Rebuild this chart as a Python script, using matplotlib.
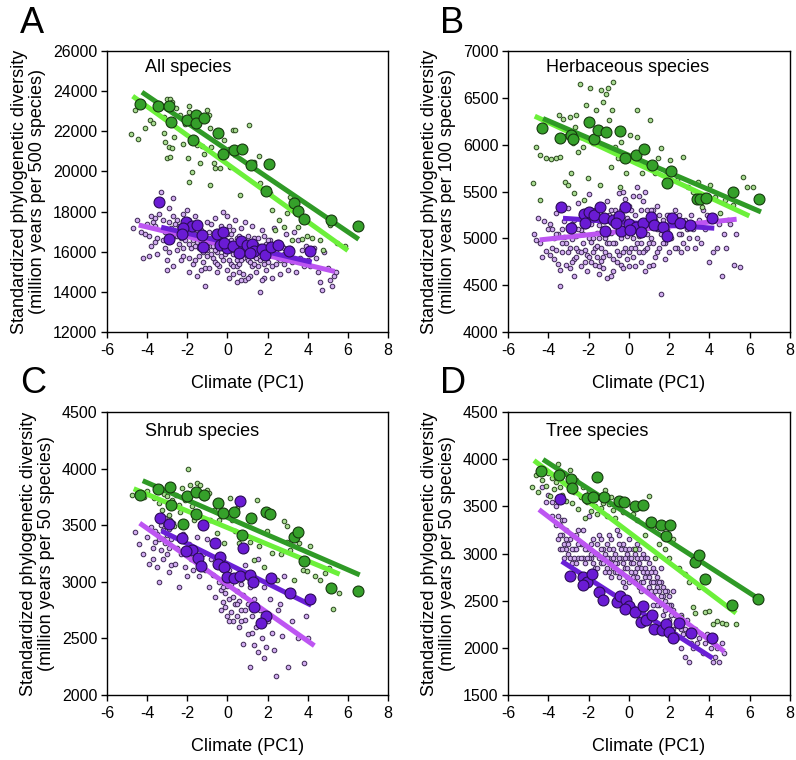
import matplotlib
matplotlib.use('Agg')
import matplotlib.pyplot as plt

plt.rcParams['font.family'] = ['Liberation Sans', 'DejaVu Sans']
plt.rcParams['axes.unicode_minus'] = False

# ---- Panel A: all species ----
a_green_big = [(-4.34, 23380), (-3.46, 23250), (-2.89, 23280), (-2.79, 22470), (-2.01, 22550),
               (-1.55, 22820), (-1.55, 22420), (-1.18, 22640), (-1.73, 21590), (-0.47, 21920),
               (-0.22, 20860), (0.31, 21050), (0.71, 21110), (1.18, 20320), (2.07, 20370),
               (1.91, 19040), (3.34, 18410), (3.50, 18050), (3.80, 17620), (5.18, 17570), (6.49, 17270)]
a_purple_big = [(-3.39, 18460), (-2.93, 16640), (-2.06, 17490), (-1.78, 17300), (-1.50, 17320),
                (-2.23, 17190), (-2.26, 16890), (-1.29, 16810), (-1.23, 16240), (-0.50, 16890),
                (-0.21, 16990), (-0.37, 16310), (-0.04, 16180), (-0.17, 16440), (0.29, 16270),
                (0.66, 16510), (0.59, 15950), (0.96, 16310), (1.21, 16390), (1.32, 16060),
                (1.71, 16140), (1.87, 15860), (2.16, 16220), (2.50, 16310), (3.08, 16020),
                (4.11, 16020), (1.13, 15950)]
a_green_small = [(-4.79, 21860), (-4.46, 21640), (-4.59, 23050), (-4.09, 22140), (-3.84, 22550),
                 (-3.69, 22420), (-3.18, 22720), (-3.01, 23610), (-2.84, 23610), (-2.76, 23460),
                 (-3.14, 21920), (-3.09, 21480), (-3.01, 20650), (-2.84, 20730), (-2.93, 21230),
                 (-2.76, 21150), (-2.68, 21730), (-2.54, 23170), (-2.35, 22800), (-2.21, 21390),
                 (-2.13, 22340), (-1.98, 20650), (-1.93, 23250), (-1.90, 22950), (-1.76, 19990),
                 (-1.93, 19490), (-1.51, 21310), (-1.38, 20400), (-1.27, 21260), (-1.18, 20850),
                 (-1.02, 23050), (-0.93, 22800), (-0.88, 22170), (-0.82, 21200), (-0.85, 19320),
                 (-0.68, 20400), (-0.60, 20150), (-0.35, 20150), (-0.19, 21560), (-0.05, 20810),
                 (0.15, 20230), (0.06, 21140), (0.28, 22060), (0.36, 22060), (0.40, 20810),
                 (0.61, 18830), (1.06, 22310), (1.31, 20480), (1.56, 20760), (1.64, 19410),
                 (2.11, 18910), (2.22, 18080), (2.39, 17090), (2.56, 17580), (2.84, 17220),
                 (2.97, 17910), (3.10, 18740), (3.22, 16590), (3.52, 17250), (3.97, 16760),
                 (4.22, 16670), (4.60, 16590), (4.76, 16090), (5.13, 17330), (5.46, 16420),
                 (5.88, 16260), (3.72, 16640)]
a_purple_small = [(-4.7, 17200), (-4.5, 17600), (-4.3, 17000), (-4.1, 16900), (-4.0, 17400), (-3.9, 15800),
                  (-4.2, 15700), (-3.8, 17800), (-3.7, 17500), (-3.6, 17300), (-3.5, 16700), (-3.4, 17900),
                  (-3.3, 19000), (-3.2, 17600), (-3.1, 16200), (-3.0, 15100), (-3.0, 15600), (-3.5, 15900),
                  (-3.8, 16300), (-3.3, 18400), (-3.1, 17000), (-3.6, 17700), (-2.9, 18200), (-2.7, 18700),
                  (-2.8, 17200), (-2.6, 16800), (-2.5, 17600), (-2.4, 16400), (-2.3, 15600), (-2.2, 17900),
                  (-2.9, 16000), (-2.7, 15300), (-2.5, 16100), (-2.1, 16600), (-2.0, 18100), (-2.2, 15800),
                  (-2.6, 17400), (-2.4, 17000), (-2.8, 16600), (-2.0, 17300), (-1.9, 17600), (-1.8, 16200),
                  (-1.7, 15400), (-1.6, 17800), (-1.5, 16500), (-1.4, 15800), (-1.3, 17100), (-1.2, 16000),
                  (-1.1, 15200), (-1.0, 17500), (-1.9, 15000), (-1.5, 14800), (-1.1, 14300), (-1.8, 16900),
                  (-1.4, 16700), (-1.2, 16400), (-1.0, 16100), (-1.6, 15600), (-1.3, 15100), (-1.7, 17200),
                  (-0.9, 17000), (-0.8, 16300), (-0.7, 15700), (-0.6, 17700), (-0.5, 16000), (-0.4, 15300),
                  (-0.3, 16600), (-0.2, 18000), (-0.1, 15900), (0.0, 16900), (-0.9, 15200), (-0.7, 16800),
                  (-0.5, 15000), (-0.3, 17300), (-0.1, 16300), (-0.8, 17400), (-0.6, 15500), (-0.4, 16500),
                  (-0.2, 15600), (0.0, 17800), (0.1, 16100), (0.2, 15400), (0.3, 17100), (0.4, 15900),
                  (0.5, 16700), (0.6, 15000), (0.7, 16400), (0.8, 14900), (0.9, 17500), (1.0, 15600),
                  (0.2, 16900), (0.4, 17600), (0.6, 16200), (0.8, 15700), (1.0, 16800), (0.1, 14700),
                  (0.3, 15300), (0.5, 15600), (0.7, 17200), (0.9, 14600), (0.5, 14500), (0.0, 15100),
                  (1.1, 16200), (1.2, 15300), (1.3, 16700), (1.4, 15000), (1.5, 16100), (1.6, 15600),
                  (1.7, 17100), (1.8, 14700), (1.9, 16400), (2.0, 15500), (1.2, 17300), (1.4, 16400),
                  (1.6, 14000), (1.8, 16800), (2.0, 16000), (1.1, 14800), (1.5, 15300), (1.7, 14600),
                  (1.3, 15800), (1.9, 15100), (2.1, 16600), (2.2, 15300), (2.4, 16000), (2.5, 15700),
                  (2.6, 14900), (2.7, 16300), (2.8, 15400), (2.9, 16900), (3.0, 15100), (2.3, 17200),
                  (2.5, 16500), (2.8, 15900), (2.2, 14700), (2.9, 15600), (3.1, 16200), (3.2, 15500),
                  (3.4, 15000), (3.5, 16600), (3.6, 15700), (3.8, 15300), (3.9, 16300), (3.3, 17000),
                  (3.7, 16100), (4.0, 15600), (4.1, 15300), (4.3, 16200), (4.5, 15000), (4.6, 14500),
                  (4.7, 14100), (4.8, 16000), (5.0, 15200), (5.1, 14600), (5.2, 14300), (5.3, 14800),
                  (5.4, 15000), (4.4, 15700),
                  (-2.4, 17300), (-2.3, 16700), (-2.1, 17100), (-1.9, 16400), (-1.8, 17400), (-1.7, 16600),
                  (-1.6, 16900), (-1.5, 17100), (-1.4, 16200), (-1.3, 16500), (-1.2, 17000), (-1.1, 16600),
                  (-1.0, 15800), (-0.9, 16500), (-0.8, 15900), (-0.7, 16300), (-0.6, 16100), (-0.5, 16600),
                  (-0.4, 17000), (-0.3, 15800), (-0.2, 16400), (-0.1, 17100), (0.0, 16400), (0.1, 15600),
                  (0.2, 16600), (0.3, 15900), (0.4, 16300), (0.5, 15300), (0.6, 16800), (0.7, 15600),
                  (0.8, 16200), (0.9, 15900), (1.0, 16300), (1.1, 15500), (1.2, 16000), (1.3, 15400),
                  (1.4, 15700), (1.5, 16700), (1.6, 16300), (1.7, 15800), (1.8, 15400), (1.9, 15700),
                  (2.0, 16600), (2.2, 16000), (2.4, 15400), (2.6, 15600), (2.8, 16200), (3.0, 15800),
                  (-2.9, 17500), (-2.7, 17800), (-2.5, 16800), (-3.2, 16600), (-3.6, 16500), (-3.9, 16800),
                  (-2.2, 16200), (-1.9, 15700), (-1.2, 15500), (-0.5, 15400), (0.3, 14900), (0.7, 14600),
                  (1.0, 14700), (-1.6, 16300), (-0.8, 16700), (0.1, 17300), (0.6, 15400), (1.3, 16300)]
# fitted lines: (x_start, y_start, x_end, y_end)
a_lines = {'dark_green': (-4.26, 23950, 6.54, 16620), 'light_green': (-4.72, 23750, 6.0, 16060),
           'violet': (-4.42, 17330, 5.35, 15015), 'purple': (-3.3, 17220, 4.2, 15480)}

# ---- Panel B: herbaceous species ----
b_green_big = [(-4.31, 6180), (-3.43, 6073), (-2.85, 6102), (-2.77, 6059), (-1.99, 6240), (-1.73, 6059),
               (-1.53, 6155), (-1.15, 6130), (-0.45, 6148), (-0.18, 5857), (0.35, 5889), (0.74, 5953),
               (1.16, 5782), (2.08, 5722), (1.89, 5587), (3.36, 5416), (3.53, 5416), (3.81, 5434),
               (5.15, 5495), (6.46, 5416)]
b_purple_big = [(-3.35, 5339), (-2.88, 5107), (-2.24, 5257), (-1.97, 5285), (-1.74, 5250), (-2.19, 5161),
                (-1.44, 5339), (-1.24, 5214), (-1.19, 5079), (-0.81, 5196), (-0.48, 5243), (-0.37, 5083),
                (-0.17, 5339), (0.00, 5150), (0.35, 5125), (0.71, 5161), (0.60, 5065), (1.12, 5225),
                (1.24, 5143), (1.70, 5125), (1.87, 5026), (2.16, 5214), (2.53, 5161), (3.02, 5143),
                (4.15, 5214), (-0.65, 5161), (0.08, 5090)]
b_green_small = [(-4.76, 5594), (-4.43, 5889), (-4.59, 5978), (-4.39, 5410), (-4.09, 5853), (-3.85, 5843),
                 (-3.60, 5853), (-3.47, 6315), (-3.40, 5871), (-3.27, 6279), (-3.18, 5605), (-3.10, 6091),
                 (-3.02, 5569), (-2.94, 6297), (-2.85, 5694), (-2.77, 6013), (-2.69, 6190), (-2.74, 5481),
                 (-2.60, 6315), (-2.52, 5924), (-2.44, 6652), (-2.36, 6084), (-2.27, 5978), (-2.22, 5410),
                 (-2.11, 6421), (-2.02, 5640), (-1.91, 6609), (-1.86, 6244), (-1.78, 6013), (-1.61, 6368),
                 (-1.53, 6173), (-1.44, 5569), (-1.39, 6588), (-1.28, 6457), (-1.15, 6546), (-1.03, 6609),
                 (-0.98, 6262), (-0.91, 5765), (-0.78, 6670), (-0.86, 6368), (-0.70, 5978), (-0.53, 5853),
                 (-0.45, 5551), (-0.37, 6031), (-0.12, 5694), (0.05, 6102), (0.21, 5889), (0.38, 6368),
                 (0.41, 6084), (0.63, 5694), (0.79, 5800), (1.01, 5765), (1.07, 6262), (1.29, 5694),
                 (1.46, 5853), (1.62, 5960), (1.84, 5676), (2.04, 5835), (2.37, 5623), (2.70, 5871),
                 (2.95, 5551), (3.19, 5498), (3.44, 5605), (4.02, 5569), (4.27, 5445), (4.52, 5267),
                 (4.77, 5410), (5.18, 5356), (5.68, 5658), (5.85, 5551), (6.18, 5551), (4.93, 5197),
                 (3.61, 5339)]
b_purple_small = [(-4.7, 5050), (-4.5, 5220), (-4.4, 4950), (-4.2, 5180), (-4.1, 4870), (-4.0, 5100),
                  (-4.3, 4800), (-4.6, 4980), (-3.9, 5150), (-3.8, 4900), (-3.7, 4780), (-3.6, 5270),
                  (-3.5, 5050), (-3.4, 4490), (-3.4, 4660), (-3.3, 4850), (-3.2, 5190), (-3.1, 4950),
                  (-3.0, 5320), (-3.9, 4820), (-3.7, 5000), (-3.5, 4730), (-3.3, 5100), (-3.1, 4720),
                  (-3.6, 4880), (-3.2, 5010), (-2.9, 4900), (-2.8, 5150), (-2.7, 4780), (-2.6, 5020),
                  (-2.5, 5380), (-2.4, 4700), (-2.3, 4950), (-2.2, 5130), (-2.1, 4820), (-2.0, 5470),
                  (-2.9, 4680), (-2.7, 4600), (-2.5, 4870), (-2.3, 5250), (-2.1, 4650), (-2.8, 4990),
                  (-2.6, 4800), (-2.4, 5090), (-2.2, 4880), (-2.0, 5000), (-1.9, 4750), (-1.8, 5200),
                  (-1.7, 4900), (-1.6, 5060), (-1.5, 4620), (-1.4, 5330), (-1.3, 4800), (-1.2, 5000),
                  (-1.1, 4580), (-1.0, 5250), (-1.9, 4960), (-1.7, 4720), (-1.5, 5140), (-1.3, 4680),
                  (-1.1, 5400), (-1.0, 4820), (-1.8, 4850), (-1.6, 4920), (-1.4, 4760), (-1.2, 5180),
                  (-1.1, 4950), (-0.9, 5060), (-0.8, 4780), (-0.7, 5300), (-0.6, 4870), (-0.5, 5480),
                  (-0.4, 4720), (-0.3, 5150), (-0.2, 4900), (-0.1, 5020), (0.0, 5350), (-0.9, 4600),
                  (-0.7, 4950), (-0.5, 4820), (-0.3, 4680), (-0.1, 5220), (-0.8, 5200), (-0.6, 5080),
                  (-0.4, 5000), (-0.2, 5420), (0.0, 4850), (0.1, 5100), (0.2, 4800), (0.3, 5250),
                  (0.4, 4950), (0.5, 5450), (0.6, 4750), (0.7, 5050), (0.8, 4880), (0.9, 5300),
                  (1.0, 4700), (0.2, 5000), (0.4, 5550), (0.6, 5150), (0.8, 4650), (1.0, 5200),
                  (0.1, 4900), (0.3, 4700), (0.5, 5020), (0.7, 5400), (0.9, 4900), (1.1, 5000),
                  (1.2, 5300), (1.3, 4800), (1.4, 5100), (1.5, 4900), (1.6, 4410), (1.7, 5200),
                  (1.8, 4950), (1.9, 5100), (2.0, 4850), (1.2, 4720), (1.4, 5350), (1.6, 5050),
                  (1.8, 4780), (2.0, 5250), (1.1, 5150), (1.5, 5250), (2.1, 5000), (2.2, 5150),
                  (2.4, 4900), (2.5, 5250), (2.6, 5050), (2.7, 4950), (2.8, 5200), (2.9, 5100),
                  (3.0, 5000), (2.3, 5300), (2.6, 4850), (3.1, 5250), (3.2, 5100), (3.4, 5000),
                  (3.5, 5200), (3.6, 4950), (3.8, 5100), (3.9, 5250), (3.3, 4900), (3.7, 5300),
                  (4.0, 4750), (4.2, 4850), (4.4, 4900), (4.6, 4600), (4.7, 5050), (4.8, 4900),
                  (5.0, 5150), (5.2, 4710), (5.3, 5050), (5.5, 4690), (4.5, 5150),
                  (-3.0, 4850), (-2.9, 5100), (-2.8, 4750), (-2.7, 5200), (-2.6, 4900), (-2.5, 5100),
                  (-2.4, 4850), (-2.3, 5050), (-2.2, 4750), (-2.1, 5200), (-2.0, 4800), (-1.9, 5150),
                  (-1.8, 5000), (-1.7, 5300), (-1.6, 4800), (-1.5, 5000), (-1.4, 4900), (-1.3, 5100),
                  (-1.2, 4850), (-1.1, 5050), (-1.0, 4950), (-0.9, 5300), (-0.8, 4950), (-0.7, 5150),
                  (-0.6, 4750), (-0.5, 5100), (-0.4, 5300), (-0.3, 4850), (-0.2, 5100), (-0.1, 4780),
                  (0.0, 5100), (0.1, 5300), (0.2, 5150), (0.3, 4900), (0.4, 5100), (0.5, 4850),
                  (0.6, 5300), (0.7, 4850), (0.8, 5150), (0.9, 5050), (1.0, 4950), (1.1, 5300),
                  (1.2, 4950), (1.3, 5200), (1.4, 4850), (1.5, 5100), (1.7, 4950), (1.9, 5250),
                  (2.1, 5150), (2.3, 4900), (2.5, 5050), (2.7, 5150), (2.9, 4900), (-3.6, 5050),
                  (-3.8, 5100), (-3.3, 4950), (-1.5, 4700), (-0.8, 4650), (0.0, 4700), (0.6, 4950),
                  (-2.4, 5250), (-0.3, 5500), (0.2, 5450), (0.8, 5500)]
b_lines = {'dark_green': (-4.26, 6279, 6.56, 5282), 'light_green': (-4.67, 6304, 5.98, 5239),
           'violet': (-4.43, 4983, 5.35, 5204), 'purple': (-3.27, 5214, 4.24, 5108)}

# ---- Panel C: shrub species ----
c_green_big = [(-4.34, 3763), (-3.46, 3822), (-2.88, 3837), (-2.79, 3675), (-2.01, 3754), (-1.55, 3792),
               (-1.18, 3763), (-2.21, 3512), (-1.55, 3601), (-0.47, 3695), (-0.22, 3607), (0.31, 3616),
               (0.71, 3415), (1.18, 3568), (1.92, 3613), (2.11, 3598), (3.34, 3400), (3.52, 3442),
               (3.80, 3185), (5.18, 2949), (6.49, 2920)]
c_purple_big = [(0.61, 3710), (-3.38, 3562), (-2.93, 3512), (-1.22, 3503), (-2.26, 3391), (-0.60, 3341),
                (0.78, 3297), (-1.76, 3282), (-2.05, 3268), (-0.39, 3218), (-1.47, 3209), (-0.49, 3156),
                (-0.19, 3129), (-1.30, 3141), (-0.02, 3041), (0.31, 3032), (0.64, 3047), (1.11, 3059),
                (1.26, 3002), (2.17, 3032), (3.14, 2905), (4.13, 2849), (1.34, 2781), (1.91, 2702),
                (1.69, 2634)]
c_green_small = [(-4.75, 3769), (-4.50, 3784), (-4.17, 3748), (-4.01, 3798), (-3.67, 3739), (-3.43, 3695),
                 (-3.26, 3636), (-3.18, 3778), (-3.01, 3754), (-2.93, 3592), (-2.84, 3548), (-2.76, 3725),
                 (-2.68, 3489), (-2.54, 3769), (-2.43, 3680), (-2.35, 3621), (-2.26, 3828), (-2.13, 3725),
                 (-1.98, 3996), (-1.85, 3857), (-1.76, 3666), (-1.68, 3548), (-1.51, 3872), (-1.43, 3769),
                 (-1.38, 3857), (-1.27, 3504), (-1.15, 3739), (-1.02, 3813), (-0.93, 3784), (-0.85, 3548),
                 (-0.68, 3636), (-0.52, 3430), (-0.44, 3548), (-0.19, 3341), (0.15, 3739), (0.23, 3548),
                 (0.40, 3445), (0.48, 3651), (0.56, 3341), (0.81, 3282), (1.11, 3356), (1.31, 3194),
                 (1.48, 3725), (1.56, 3312), (1.81, 3135), (1.97, 3445), (2.22, 3253), (2.47, 3017),
                 (2.80, 3533), (2.97, 3356), (3.14, 3282), (3.30, 3017), (3.55, 3341), (3.77, 3106),
                 (3.97, 3091), (4.13, 3312), (4.38, 3047), (4.63, 3017), (4.88, 3076), (5.05, 3120),
                 (5.26, 2758), (5.54, 2905), (2.97, 3489), (2.67, 3247)]
c_purple_small = [(-4.6, 3440), (-4.4, 3330), (-4.2, 3250), (-4.0, 3400), (-3.9, 3160), (-3.8, 3480),
                  (-3.7, 3300), (-3.6, 3350), (-3.5, 3130), (-3.5, 3420), (-3.4, 3000), (-3.4, 3380),
                  (-3.3, 3500), (-3.3, 3280), (-3.2, 3460), (-3.2, 3200), (-3.1, 3340), (-3.1, 3560),
                  (-3.0, 3410), (-3.0, 3250), (-2.9, 3470), (-2.9, 3090), (-2.8, 3150), (-2.8, 3380),
                  (-2.7, 3520), (-2.6, 3160), (-2.5, 3300), (-2.4, 2950), (-2.3, 3250), (-2.2, 3420),
                  (-2.1, 3130), (-2.0, 3050), (-1.9, 3330), (-1.8, 3200), (-1.7, 3100), (-1.6, 3280),
                  (-1.5, 3400), (-1.4, 3050), (-1.3, 3170), (-1.2, 3250), (-1.1, 3100), (-1.0, 3380),
                  (-0.9, 2950), (-0.8, 3200), (-0.7, 3060), (-0.6, 2870), (-0.5, 3150), (-0.4, 3000),
                  (-0.3, 2930), (-0.2, 2820), (-0.2, 3000), (-0.1, 2900), (-0.1, 2780), (0.0, 2960),
                  (0.0, 2700), (0.1, 2850), (0.1, 3100), (0.2, 2730), (0.2, 2980), (0.3, 2870),
                  (0.3, 2650), (0.4, 2800), (0.4, 3050), (0.5, 2700), (0.5, 2920), (0.6, 2830),
                  (0.6, 2600), (0.7, 2980), (0.7, 2750), (0.8, 2880), (0.8, 2450), (0.9, 2660),
                  (0.9, 3150), (1.0, 2800), (1.0, 2540), (1.1, 2250), (1.1, 2950), (1.2, 2700),
                  (1.3, 2440), (1.3, 2850), (1.4, 2600), (1.5, 2380), (1.5, 3200), (1.6, 2750),
                  (1.7, 2500), (1.8, 2330), (1.8, 2950), (1.9, 2420), (2.0, 2650), (2.1, 2850),
                  (2.2, 2550), (2.3, 2400), (2.4, 2170), (2.5, 2750), (2.6, 2800), (2.7, 2520),
                  (3.0, 2250), (3.2, 2650), (3.5, 2500), (3.8, 2280), (3.9, 2700), (4.0, 2500),
                  (3.0, 2900), (2.8, 3050),
                  (-3.6, 3450), (-3.2, 3380), (-2.9, 3300), (-3.7, 3200), (-3.0, 3520), (-0.3, 2750),
                  (0.1, 2650), (0.5, 2800), (0.9, 2750), (1.2, 2550), (0.7, 2650), (-0.2, 2950)]
c_lines = {'dark_green': (-4.22, 3893, 6.59, 3061), 'light_green': (-4.67, 3822, 5.59, 3067),
           'violet': (-4.37, 3518, 4.33, 2436), 'purple': (-3.29, 3450, 4.18, 2793)}

# ---- Panel D: tree species ----
d_green_big = [(-4.34, 3873), (-3.47, 3827), (-2.89, 3792), (-2.80, 3696), (-1.56, 3813), (-2.06, 3590),
               (-1.76, 3597), (-1.23, 3600), (-0.48, 3554), (-0.23, 3544), (0.31, 3501), (0.68, 3519),
               (1.12, 3331), (1.59, 3299), (1.84, 3182), (2.05, 3299), (3.28, 2906), (3.49, 2988),
               (3.77, 2729), (5.12, 2449), (6.43, 2520)]
d_purple_big = [(-3.42, 3583), (-2.94, 2764), (-2.27, 2747), (-2.06, 2694), (-2.26, 2669), (-1.81, 2786),
                (-1.48, 2587), (-1.28, 2509), (-0.57, 2481), (-0.45, 2545), (-0.15, 2509), (0.01, 2446),
                (-0.18, 2410), (0.31, 2385), (0.68, 2439), (0.59, 2279), (0.84, 2297), (1.14, 2350),
                (1.26, 2201), (1.67, 2191), (1.84, 2254), (2.00, 2173), (2.50, 2262), (2.17, 2102),
                (3.08, 2155), (4.12, 2102)]
d_green_small = [(-4.8, 3700), (-4.6, 3830), (-4.5, 3650), (-4.3, 3780), (-4.2, 3900), (-4.1, 3720),
                 (-4.0, 3850), (-3.9, 3610), (-3.8, 3800), (-3.7, 3680), (-3.6, 3760), (-3.5, 3950),
                 (-3.4, 3700), (-3.3, 3620), (-3.2, 3850), (-3.1, 3560), (-3.0, 3740), (-2.9, 3880),
                 (-2.8, 3540), (-2.7, 3650), (-2.6, 3780), (-2.5, 3470), (-2.4, 3600), (-2.3, 3700),
                 (-2.2, 3380), (-2.1, 3550), (-2.0, 3660), (-1.9, 3450), (-1.8, 3580), (-1.7, 3500),
                 (-1.6, 3420), (-1.5, 3600), (-1.4, 3480), (-1.3, 3540), (-1.2, 3670), (-1.1, 3400),
                 (-1.0, 3520), (-0.9, 3600), (-0.8, 3460), (-0.7, 3380), (-0.5, 3500), (-0.3, 3440),
                 (-0.1, 3560), (0.2, 3420), (0.4, 3350), (0.6, 3480), (0.8, 3200), (1.0, 3610),
                 (1.2, 3280), (1.5, 3100), (1.8, 3050), (2.0, 2950), (2.2, 3150), (2.5, 2850),
                 (2.8, 2780), (3.0, 2700), (3.2, 2430), (3.5, 2650), (3.8, 2380), (4.0, 2390),
                 (4.2, 2250), (4.4, 2280), (4.6, 2260), (4.8, 2250), (5.3, 2250), (2.6, 2330),
                 (3.3, 2370), (1.3, 2950), (0.3, 3050)]
d_purple_small = [(-4.3, 3700), (-4.0, 3620), (-3.8, 3550), (-3.6, 3500), (-3.5, 3400), (-3.4, 3300),
                  (-3.3, 3200), (-3.2, 3100), (-3.5, 3150), (-3.4, 3050), (-3.1, 3250), (-3.3, 3350),
                  (-3.0, 3000), (-3.2, 2950), (-2.9, 3150), (-3.1, 3050), (-2.8, 2900), (-2.7, 3050),
                  (-2.6, 3200), (-2.5, 2950), (-2.4, 3100), (-2.3, 3250), (-2.2, 2900), (-2.1, 3050),
                  (-2.0, 3400), (-1.9, 2950), (-1.8, 3150), (-1.7, 2850), (-1.6, 3000), (-1.5, 3200),
                  (-1.4, 2900), (-1.3, 3050), (-1.2, 2800), (-1.1, 3100), (-1.0, 2950), (-0.9, 3150),
                  (-0.8, 2850), (-0.7, 3000), (-0.6, 3250), (-0.5, 2750), (-0.4, 2950), (-0.3, 3100),
                  (-0.2, 2850), (-0.1, 3000), (0.0, 2700), (0.1, 2900), (0.2, 3050), (0.3, 2800),
                  (0.4, 2950), (0.5, 2650), (0.6, 2850), (0.7, 3000), (0.8, 2750), (0.9, 2600),
                  (1.0, 2900), (1.1, 2700), (1.2, 2550), (1.3, 2800), (1.4, 2650), (1.5, 2450),
                  (1.6, 2700), (1.7, 2550), (1.8, 2400), (1.9, 2600), (2.0, 2300), (2.1, 2450),
                  (2.2, 2200), (2.3, 2350), (2.4, 2100), (2.5, 2250), (2.6, 2000), (2.7, 2150),
                  (2.8, 1900), (2.9, 2300), (3.0, 1850), (3.1, 2050), (3.3, 2200), (3.5, 2100),
                  (3.7, 1950), (3.9, 2150), (4.1, 2000), (4.3, 1900), (4.5, 1850), (4.7, 1950),
                  (4.6, 2050), (-1.0, 2800), (-0.8, 3050), (-0.6, 2900), (-0.4, 2800), (-0.2, 3050),
                  (0.0, 2950), (0.2, 2750), (0.4, 2850), (0.6, 2700), (0.8, 2950), (1.0, 2750),
                  (1.2, 2850), (-0.9, 2900), (-0.5, 3100), (-0.1, 2750), (0.3, 3000), (0.7, 2800),
                  (1.1, 2600), (-0.3, 2700), (0.5, 3050), (0.9, 2800), (1.3, 2700), (-0.7, 2800),
                  (0.1, 2800), (-1.3, 2900), (-1.6, 2850), (-1.9, 3100), (-2.2, 3050), (-2.5, 3100),
                  (-2.8, 3050), (-1.1, 2950), (-1.4, 3050), (-1.7, 3000), (-2.0, 2950), (-2.3, 2950),
                  (-2.6, 2900), (-0.2, 2650), (0.6, 2600), (1.5, 2600), (1.8, 2500), (2.1, 2350),
                  (1.4, 2450), (1.7, 2350), (2.0, 2450), (2.3, 2150), (2.6, 2200), (1.2, 2450),
                  (-3.6, 3300), (-3.8, 3400), (-4.1, 3550),
                  (-3.4, 3200), (-3.3, 3050), (-3.2, 3350), (-3.1, 3150), (-3.0, 3100), (-2.9, 2950),
                  (-2.8, 3200), (-2.7, 2950), (-2.6, 3050), (-2.5, 3250), (-2.4, 2950), (-2.3, 3100),
                  (-2.1, 2950), (-1.9, 3000), (-1.8, 2900), (-1.6, 3100), (-1.5, 2950), (-1.4, 3150),
                  (-1.2, 3000), (-1.1, 2850), (-1.0, 3050), (-0.9, 2750), (-0.8, 2950), (-0.7, 2900),
                  (-0.6, 2800), (-0.5, 2950), (-0.4, 3050), (-0.3, 2900), (-0.2, 2950), (-0.1, 2850),
                  (0.0, 3050), (0.1, 2950), (0.2, 2900), (0.3, 2700), (0.4, 2750), (0.5, 2900),
                  (0.6, 2950), (0.7, 2700), (0.8, 2850), (0.9, 2950), (1.0, 2650), (1.1, 2800),
                  (1.2, 2700), (1.3, 2600), (1.4, 2750), (1.5, 2700), (1.6, 2550), (1.7, 2650),
                  (1.8, 2600), (1.9, 2450), (2.0, 2550), (2.2, 2400), (2.4, 2300), (2.6, 2350),
                  (2.8, 2200), (3.0, 2150), (3.2, 2000), (3.4, 2050), (3.6, 2150), (3.8, 2050),
                  (4.0, 2100), (4.4, 2000), (4.2, 1850), (-0.5, 3200), (0.0, 3150), (0.4, 3100),
                  (-1.0, 3200), (1.6, 2850), (2.2, 2600)]
d_lines = {'dark_green': (-4.26, 3997, 6.52, 2509), 'light_green': (-4.71, 3986, 5.32, 2368),
           'violet': (-4.46, 3466, 4.74, 1960), 'purple': (-3.33, 2917, 4.16, 1890)}

panels = [
    ('A', 'All species', '(million years per 500 species)', (12000, 26000), 2000,
     a_green_small, a_purple_small, a_green_big, a_purple_big, a_lines),
    ('B', 'Herbaceous species', '(million years per 100 species)', (4000, 7000), 500,
     b_green_small, b_purple_small, b_green_big, b_purple_big, b_lines),
    ('C', 'Shrub species', '(million years per 50 species)', (2000, 4500), 500,
     c_green_small, c_purple_small, c_green_big, c_purple_big, c_lines),
    ('D', 'Tree species', '(million years per 50 species)', (1500, 4500), 500,
     d_green_small, d_purple_small, d_green_big, d_purple_big, d_lines),
]

line_colors = {'dark_green': '#2f9a26', 'light_green': '#6cf03a',
               'violet': '#bd55f2', 'purple': '#6a1fd6'}
line_order = ['violet', 'purple', 'light_green', 'dark_green']

W, H = 796, 760
fig = plt.figure(figsize=(W / 100, H / 100), dpi=100)
# axes boxes in pixels: left, top, width, height
boxes = [(107, 51, 281, 281), (508, 51, 282, 281), (107, 412, 281, 283), (508, 412, 282, 283)]
letter_pos = [(20, 6), (440, 6), (20, 366), (440, 366)]

for (letter, title, unit, ylim, ystep, gs, ps, gb, pb, lines), box, lp in zip(panels, boxes, letter_pos):
    l, t, w, h = box
    ax = fig.add_axes([l / W, 1 - (t + h) / H, w / W, h / H])

    ax.scatter([p[0] for p in ps], [p[1] for p in ps], s=11, facecolor='#d2adf0',
               edgecolor='#3b2553', linewidth=0.7, zorder=2)
    ax.scatter([p[0] for p in gs], [p[1] for p in gs], s=11, facecolor='#a9dc92',
               edgecolor='#2a4a1c', linewidth=0.7, zorder=2)
    for key in line_order:
        x0, y0, x1, y1 = lines[key]
        ax.plot([x0, x1], [y0, y1], color=line_colors[key], lw=3.6,
                solid_capstyle='butt', zorder=3)
    ax.scatter([p[0] for p in pb], [p[1] for p in pb], s=62, facecolor='#6a1bd4',
               edgecolor='#2a0b55', linewidth=0.8, zorder=4)
    ax.scatter([p[0] for p in gb], [p[1] for p in gb], s=62, facecolor='#35a02a',
               edgecolor='#163a0e', linewidth=0.8, zorder=4)

    ax.set_xlim(-6, 8)
    ax.set_ylim(*ylim)
    ax.set_xticks(range(-6, 9, 2))
    ax.set_yticks(range(ylim[0], ylim[1] + 1, ystep))
    ax.tick_params(direction='out', length=4, width=1, labelsize=11.5, top=False, right=False)
    ax.tick_params(axis='x', pad=4)
    ax.tick_params(axis='y', pad=3)
    for sp in ax.spines.values():
        sp.set_linewidth(1)
    ax.set_xlabel('Climate (PC1)', fontsize=13, labelpad=12)
    ax.set_ylabel('Standardized phylogenetic diversity\n' + unit, fontsize=13, labelpad=5,
                  linespacing=1.05)
    ax.text(0.135, 0.94 if letter in 'AB' else 0.93, title, transform=ax.transAxes,
            fontsize=13, va='center', ha='left')
    fig.text(lp[0] / W, 1 - lp[1] / H, letter, fontsize=26, va='top', ha='left')

fig.savefig('out.png', dpi=100)
